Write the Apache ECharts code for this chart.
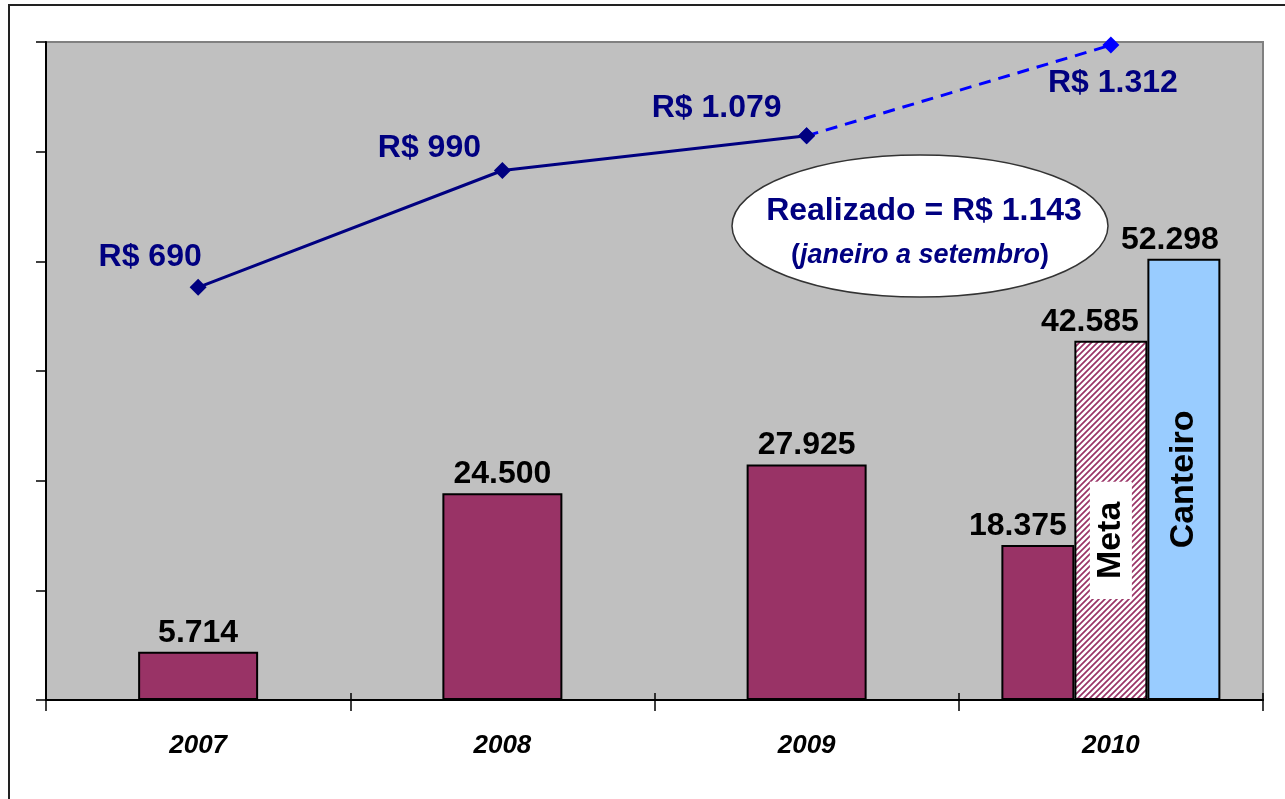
<!DOCTYPE html>
<html>
<head>
<meta charset="utf-8">
<script src="https://cdn.jsdelivr.net/npm/echarts@6/dist/echarts.min.js"></script>
<style>
  html, body { margin: 0; padding: 0; background: #fff; }
  #chart { width: 1285px; height: 799px; }
</style>
</head>
<body>
<div id="chart"></div>
<script>
  // dados do grafico
  const anos = ['2007', '2008', '2009', '2010'];
  const realizado = [5714, 24500, 27925, 18375];
  const meta = [null, null, null, 42585];
  const canteiro = [null, null, null, 52298];
  const precoMedio = [690, 990, 1079, 1312];
  const realizadoTexto = ['Realizado = R$ 1.143', 'janeiro a setembro'];

  const fonte = 'Arial, "Liberation Sans", sans-serif';
  const fmt = v => String(v).replace(/\B(?=(\d{3})+(?!\d))/g, '.');

  // padrao hachurado da barra "Meta"
  function hachura() {
    const c = document.createElement('canvas');
    c.width = 6; c.height = 6;
    const ctx = c.getContext('2d');
    ctx.fillStyle = '#fff';
    ctx.fillRect(0, 0, 6, 6);
    ctx.strokeStyle = '#993366';
    ctx.lineWidth = 1.7;
    ctx.beginPath();
    ctx.moveTo(0, 6); ctx.lineTo(6, 0);
    ctx.moveTo(-3, 3); ctx.lineTo(3, -3);
    ctx.moveTo(3, 9); ctx.lineTo(9, 3);
    ctx.stroke();
    return c;
  }

  const valorLabel = {
    show: true,
    position: 'top',
    distance: 3,
    color: '#000',
    fontFamily: fonte,
    fontWeight: 'bold',
    fontSize: 32,
    formatter: p => fmt(p.value)
  };
  const borda = { borderColor: '#000', borderWidth: 2 };
  const offsetsPreco = [[-48, -30], [-73, -22], [-90, -28], [2, 38]];

  const chart = echarts.init(document.getElementById('chart'));
  chart.setOption({
    animation: false,
    backgroundColor: '#fff',
    grid: {
      left: 46, top: 42, right: 22, bottom: 99,
      show: true,
      backgroundColor: '#c0c0c0',
      borderColor: '#808080',
      borderWidth: 2
    },
    xAxis: [
      {
        type: 'category',
        data: anos,
        axisLine: { onZero: false, lineStyle: { color: '#000', width: 2 } },
        axisTick: { show: true, length: 11, lineStyle: { color: '#000', width: 1.5 } },
        axisLabel: {
          margin: 33, color: '#000', fontFamily: fonte,
          fontWeight: 'bold', fontStyle: 'italic', fontSize: 26
        },
        splitLine: { show: false }
      },
      {
        type: 'category',
        data: anos,
        position: 'bottom',
        axisLine: { show: true, onZero: false, lineStyle: { color: 'rgba(0,0,0,0)', width: 0 } },
        axisTick: { show: true, inside: true, length: 7, lineStyle: { color: '#000', width: 1.5 } },
        axisLabel: { show: false },
        splitLine: { show: false },
        z: 1
      }
    ],
    yAxis: [
      {
        type: 'value',
        min: 0, max: 78000, interval: 13000,
        axisLine: { show: true, onZero: false, lineStyle: { color: '#000', width: 2 } },
        axisTick: { show: true, length: 10, lineStyle: { color: '#000', width: 1.5 } },
        axisLabel: { show: false },
        splitLine: { show: false }
      },
      {
        type: 'value',
        min: -370, max: 1320,
        show: false,
        splitLine: { show: false }
      }
    ],
    series: [
      {
        name: 'Realizado',
        type: 'bar',
        xAxisIndex: 0,
        data: realizado.map((v, i) => (i < 3 ? v : null)),
        barWidth: 120,
        itemStyle: Object.assign({ color: '#993366' }, borda),
        label: valorLabel
      },
      {
        name: 'Realizado 2010',
        type: 'bar',
        xAxisIndex: 1,
        data: realizado.map((v, i) => (i === 3 ? v : null)),
        barWidth: 73,
        barGap: 0,
        itemStyle: Object.assign({ color: '#993366' }, borda),
        label: Object.assign({}, valorLabel, { offset: [-20, 0] })
      },
      {
        name: 'Meta',
        type: 'bar',
        xAxisIndex: 1,
        data: meta,
        barWidth: 73,
        barGap: 0,
        itemStyle: Object.assign({ color: { image: hachura(), repeat: 'repeat' } }, borda),
        label: Object.assign({}, valorLabel, { offset: [-21, 0] }),
        markPoint: {
          symbol: 'rect',
          symbolSize: 0,
          data: [{ coord: [3, meta[3] / 2], value: 'Meta' }],
          label: {
            show: true,
            formatter: 'Meta',
            rotate: 90,
            offset: [-20, 0],
            color: '#000',
            fontFamily: fonte,
            fontWeight: 'bold',
            fontSize: 34,
            backgroundColor: '#fff',
            padding: [4, 20]
          }
        }
      },
      {
        name: 'Canteiro',
        type: 'bar',
        xAxisIndex: 1,
        data: canteiro,
        barWidth: 73,
        barGap: 0,
        itemStyle: Object.assign({ color: '#99ccff' }, borda),
        label: Object.assign({}, valorLabel, { offset: [-14, 0] }),
        markPoint: {
          symbol: 'rect',
          symbolSize: 0,
          data: [{ coord: [3, canteiro[3] / 2], value: 'Canteiro' }],
          label: {
            show: true,
            formatter: 'Canteiro',
            rotate: 90,
            color: '#000',
            fontFamily: fonte,
            fontWeight: 'bold',
            fontSize: 34
          }
        }
      },
      {
        name: 'Preco previsto',
        type: 'line',
        xAxisIndex: 0,
        yAxisIndex: 1,
        data: precoMedio.map((v, i) => (i >= 2 ? v : null)),
        symbol: 'diamond',
        symbolSize: 17,
        itemStyle: { color: '#0000ff' },
        lineStyle: { color: '#0000ff', width: 3, type: [12, 8] },
        label: {
          show: true,
          position: 'inside',
          offset: offsetsPreco[3],
          color: '#000080',
          fontFamily: fonte,
          fontWeight: 'bold',
          fontSize: 32,
          formatter: p => (p.dataIndex === 3 ? 'R$ ' + fmt(p.value) : '')
        },
        z: 3
      },
      {
        name: 'Preco',
        type: 'line',
        xAxisIndex: 0,
        yAxisIndex: 1,
        data: precoMedio.map((v, i) => ({
          value: i <= 2 ? v : null,
          label: { offset: offsetsPreco[i] }
        })),
        symbol: 'diamond',
        symbolSize: 17,
        itemStyle: { color: '#000080' },
        lineStyle: { color: '#000080', width: 3 },
        label: {
          show: true,
          position: 'inside',
          color: '#000080',
          fontFamily: fonte,
          fontWeight: 'bold',
          fontSize: 32,
          formatter: p => 'R$ ' + fmt(p.value)
        },
        z: 4
      }
    ],
    graphic: [
      {
        type: 'rect',
        silent: true,
        shape: { x: 9, y: 5, width: 1320, height: 840 },
        style: { fill: 'none', stroke: '#222', lineWidth: 2 },
        z: 100
      },
      {
        type: 'ellipse',
        shape: { cx: 920, cy: 226, rx: 188, ry: 71 },
        style: { fill: '#fff', stroke: '#333', lineWidth: 1.5 },
        z: 100
      },
      {
        type: 'text',
        x: 924, y: 211,
        style: {
          text: realizadoTexto[0],
          fill: '#000080',
          font: 'bold 32px ' + fonte,
          align: 'center',
          verticalAlign: 'middle'
        },
        z: 101
      },
      {
        type: 'text',
        x: 920, y: 256,
        style: {
          text: '{p|(}{i|' + realizadoTexto[1] + '}{p|)}',
          align: 'center',
          verticalAlign: 'middle',
          rich: {
            p: { fill: '#000080', font: 'bold 27px ' + fonte },
            i: { fill: '#000080', font: 'italic bold 27px ' + fonte }
          }
        },
        z: 101
      }
    ]
  });
</script>
</body>
</html>
